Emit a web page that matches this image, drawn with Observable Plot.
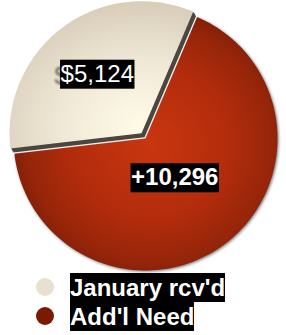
<!DOCTYPE html>
<html>
<head>
<meta charset="utf-8">
<script src="https://cdn.jsdelivr.net/npm/d3@7"></script>
<script src="https://cdn.jsdelivr.net/npm/@observablehq/plot@0.6"></script>
<style>
  html, body { margin: 0; padding: 0; background: #fff; }
  #chart svg { display: block; }
  #legend { position: relative; font: bold 24px "Liberation Sans", Arial, Helvetica, sans-serif; }
  .row { position: relative; height: 29px; }
  .dot { position: absolute; left: 36px; top: 5px; width: 18px; height: 18px; border-radius: 50%; }
  .lab { position: absolute; left: 70px; top: 0; line-height: 29px; height: 29px; background: #000; color: #fff; white-space: nowrap; }
</style>
</head>
<body>
<div id="chart"></div>
<div id="legend"></div>
<script>
// ---- data ----
const categories = ["January rcv'd", "Add'l Need"];
const values = [5124, 10296];
const valueLabels = ["$5,124", "+10,296"];

// ---- style config ----
const legendColors = ["#e9e0cf", "#7b1a03"];
const fills = ["url(#gBeige)", "url(#gRed)"];
const explode = [0.05, 0];
const labelRadius = [0.56, 0.37];
const startDeg = -96.6;

const pie = d3.pie().sort(null)
  .startAngle(startDeg * Math.PI / 180)
  .endAngle(startDeg * Math.PI / 180 + 2 * Math.PI)(values);

const pts = [];
const labelPts = [];
pie.forEach((a, i) => {
  const mid = (a.startAngle + a.endAngle) / 2;
  const ox = explode[i] * Math.sin(mid), oy = -explode[i] * Math.cos(mid);
  pts.push({i, x: ox, y: oy});
  const n = 120;
  for (let k = 0; k <= n; k++) {
    const t = a.startAngle + (a.endAngle - a.startAngle) * k / n;
    pts.push({i, x: ox + Math.sin(t), y: oy - Math.cos(t)});
  }
  pts.push({i, x: ox, y: oy});
  labelPts.push({
    i, text: valueLabels[i], cat: categories[i],
    x: ox + labelRadius[i] * Math.sin(mid),
    y: oy - labelRadius[i] * Math.cos(mid)
  });
});
const beige = pts.filter(d => d.i === 0);
const red = pts.filter(d => d.i === 1);

const font = '"Liberation Sans", Arial, Helvetica, sans-serif';
const marks = [];
marks.push(Plot.line(red, {x: "x", y: "y", fill: fills[1], stroke: "none"}));            // 0
[[1,1],[2,2],[2,3],[3,4]].forEach(([dx, dy]) => {                                         // 1-4
  marks.push(Plot.line(beige, {x: "x", y: "y", fill: "#4b463e", stroke: "none", dx, dy}));
});
marks.push(Plot.line(beige, {x: "x", y: "y", fill: fills[0], stroke: "none"}));          // 5
marks.push(Plot.text(labelPts.filter(d => d.i === 0), {                                   // 6 ghost
  x: "x", y: "y", text: "text", fill: "#3a3630", fontSize: 24, fontFamily: font,
  dx: -6, dy: 2
}));
marks.push(Plot.text(labelPts.filter(d => d.i === 0), {                                   // 7
  x: "x", y: "y", text: "text", fill: "#fff", fontSize: 24, fontFamily: font,
  fontWeight: "normal"
}));
marks.push(Plot.text(labelPts.filter(d => d.i === 1), {                                   // 8
  x: "x", y: "y", text: "text", fill: "#fff", fontSize: 24, fontFamily: font,
  fontWeight: "bold"
}));

const chart = Plot.plot({
  width: 286,
  height: 273,
  margin: 0,
  x: {domain: [-1, 1], range: [13, 277], axis: null},
  y: {domain: [-1, 1], range: [6, 270], axis: null},
  style: {background: "transparent", overflow: "visible"},
  marks
});

const svg = d3.select(chart);
const groups = svg.selectChildren("g").nodes();
const defs = svg.insert("defs", ":first-child");
const gR = defs.append("radialGradient").attr("id", "gRed")
  .attr("cx", 0.52).attr("cy", 0.5).attr("r", 0.55);
[[0, "#c9360f"], [0.55, "#b22c0c"], [0.85, "#962509"], [1, "#7c1e08"]].forEach(([o, c]) =>
  gR.append("stop").attr("offset", o).attr("stop-color", c));
const gB = defs.append("radialGradient").attr("id", "gBeige")
  .attr("cx", 0.72).attr("cy", 0.85).attr("r", 0.95);
[[0, "#fffbe7"], [0.45, "#f1e9d8"], [1, "#d1c6b1"]].forEach(([o, c]) =>
  gB.append("stop").attr("offset", o).attr("stop-color", c));

d3.select(groups[0]).style("filter", "drop-shadow(1px 1px 1.5px rgba(0,0,0,0.55))");
d3.select(groups[6]).selectAll("text").style("filter", "blur(1.3px)").attr("opacity", 0.8);

document.getElementById("chart").appendChild(chart);

// black background boxes behind the value labels (sized from the rendered text)
[groups[7], groups[8]].forEach(g => {
  d3.select(g).selectAll("text").each(function() {
    const b = this.getBBox();
    const tr = this.getAttribute("transform");
    const r = document.createElementNS("http://www.w3.org/2000/svg", "rect");
    r.setAttribute("x", b.x - 0.5);
    r.setAttribute("y", b.y);
    r.setAttribute("width", b.width + 1);
    r.setAttribute("height", b.height + 2);
    r.setAttribute("fill", "#000");
    if (tr) r.setAttribute("transform", tr);
    this.parentNode.insertBefore(r, this);
  });
});

// legend
const legend = d3.select("#legend");
categories.forEach((c, i) => {
  const row = legend.append("div").attr("class", "row");
  row.append("div").attr("class", "dot").style("background", legendColors[i]);
  row.append("span").attr("class", "lab").text(c);
});
</script>
</body>
</html>
